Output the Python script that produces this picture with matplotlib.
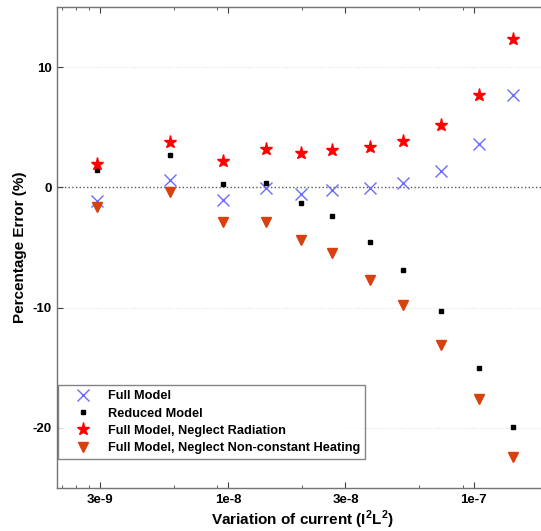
"""
Percentage error of the model variants against the variation of current (I^2 L^2)
"""

import matplotlib
matplotlib.use("Agg")
import matplotlib.pyplot as plt
from matplotlib.ticker import FixedLocator, NullFormatter
import numpy as np

# data
current = [2.92e-9, 5.79e-9, 9.54e-9, 1.42e-8, 1.97e-8, 2.64e-8,
           3.78e-8, 5.15e-8, 7.34e-8, 1.054e-7, 1.442e-7]
full_model = [-1.1, 0.64, -1.03, -0.05, -0.53, -0.25,
              -0.05, 0.36, 1.33, 3.61, 7.67]
reduced_model = [1.42, 2.7, 0.28, 0.39, -1.3, -2.39,
                 -4.53, -6.9, -10.28, -15.0, -19.9]
neglect_rad = [1.94, 3.78, 2.22, 3.22, 2.83, 3.11,
               3.33, 3.89, 5.17, 7.67, 12.36]
neglect_heat = [-1.64, -0.39, -2.92, -2.92, -4.36, -5.47,
                -7.69, -9.78, -13.14, -17.6, -22.44]

x_major = [3e-9, 1e-8, 3e-8, 1e-7]
x_major_labels = ["3e-9", "1e-8", "3e-8", "1e-7"]
x_minor = [2.1e-9, 2.4e-9, 2.7e-9, 6e-9, 9e-9, 2e-8, 6e-8, 9e-8]
y_major = [-20, -10, 0, 10]

plt.rcParams['font.family'] = ['Liberation Sans', 'DejaVu Sans']
plt.rcParams['font.weight'] = 'bold'
plt.rcParams['mathtext.fontset'] = 'custom'
plt.rcParams['mathtext.bf'] = 'Liberation Sans:bold'
plt.rcParams['mathtext.rm'] = 'Liberation Sans:bold'

fig = plt.figure(figsize=(5.41, 5.31), dpi=100)
ax = fig.add_axes([57/541, 43/531, 490.6/541, 481/531])

ax.axhline(0, color='0.35', ls=':', lw=1.0, zorder=1)
for yv in y_major:
    if yv != 0:
        ax.axhline(yv, color='#dddddd', ls=':', lw=0.7, zorder=0)

ax.plot(current, full_model, ls='none', marker='x', ms=8, mew=1.0,
        color='#6b6bff', label='Full Model', zorder=3)
ax.plot(current, reduced_model, ls='none', marker='s', ms=3.2,
        color='black', label='Reduced Model', zorder=3)
ax.plot(current, neglect_rad, ls='none', marker='*', ms=9.5,
        color='#ff0000', label='Full Model, Neglect Radiation', zorder=3)
ax.plot(current, neglect_heat, ls='none', marker='v', ms=6.5,
        color='#d9400f', label='Full Model, Neglect Non-constant Heating', zorder=3)

ax.set_xscale('log')
ax.set_xlim(2e-9, 2e-7)
ax.set_ylim(-25, 15)
ax.xaxis.set_major_locator(FixedLocator(x_major))
ax.set_xticklabels(x_major_labels)
ax.xaxis.set_minor_locator(FixedLocator(x_minor))
ax.xaxis.set_minor_formatter(NullFormatter())
ax.set_yticks(y_major)
ax.set_yticklabels([str(v) for v in y_major])

ax.tick_params(which='both', direction='in', top=True, right=False,
               colors='0.25', labelcolor='black', labelsize=9.5)
ax.tick_params(which='major', length=4, width=0.8, pad=4)
ax.tick_params(which='minor', length=2, width=0.6)
for s in ax.spines.values():
    s.set_color('0.45')
    s.set_linewidth(1.0)

ax.set_xlabel('Variation of current (I$^\\mathbf{2}$L$^\\mathbf{2}$)',
              fontsize=11, fontweight='bold', labelpad=2)
ax.set_ylabel('Percentage Error (%)', fontsize=11, fontweight='bold',
              labelpad=4)

leg = ax.legend(loc='upper left', bbox_to_anchor=(0.002, 0.214),
                fontsize=9.2, frameon=True, fancybox=False,
                edgecolor='0.4', borderaxespad=0, labelspacing=0.42,
                handletextpad=0.4, borderpad=0.4, handlelength=3.1)
leg.get_frame().set_linewidth(1.0)

plt.savefig('out.png', dpi=100)
